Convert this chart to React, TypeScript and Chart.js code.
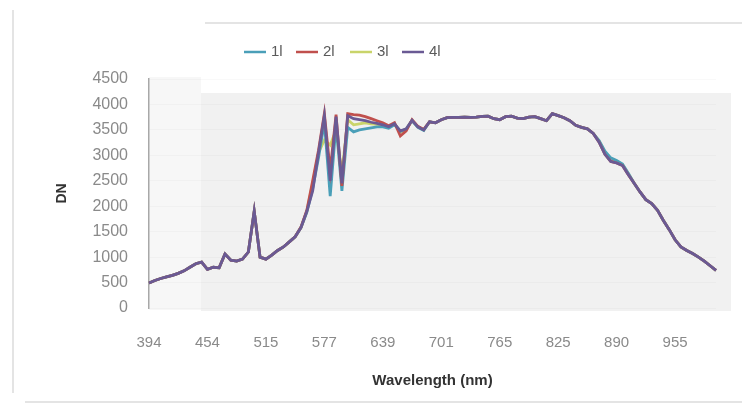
import React, { useEffect, useRef } from 'react';
import { Chart, registerables } from 'chart.js';
Chart.register(...registerables);

const wavelengths = [
  394, 400, 406, 412, 418, 424, 430, 436, 442, 448,
  454, 460, 466, 472, 478, 485, 491, 497, 503, 509,
  515, 521, 527, 534, 540, 546, 552, 558, 565, 571,
  577, 583, 589, 596, 602, 608, 614, 620, 627, 633,
  639, 645, 651, 658, 664, 670, 676, 682, 689, 695,
  701, 707, 714, 720, 727, 733, 739, 746, 752, 758,
  765, 771, 777, 783, 789, 795, 801, 807, 813, 819,
  825, 832, 838, 845, 851, 858, 864, 871, 877, 884,
  890, 897, 903, 910, 916, 923, 929, 936, 942, 949,
  955, 961, 968, 974, 981, 987, 994, 1000,
];
const tickEvery = 10;

const seriesNames = ['1l', '2l', '3l', '4l'];
const seriesColors = ['#4a9fb8', '#c0504d', '#c9d46a', '#6a5a94'];

const s1 = [
  490, 540, 580, 610, 640, 680, 730, 800, 870, 900,
  760, 800, 790, 1060, 940, 920, 960, 1100, 1900, 1000,
  960, 1040, 1130, 1200, 1300, 1400, 1580, 1880, 2350, 2950,
  3650, 2200, 3600, 2300, 3550, 3460, 3500, 3520, 3540, 3560,
  3560, 3530, 3600, 3470, 3510, 3680, 3550, 3490, 3660, 3640,
  3700, 3740, 3745, 3745, 3750, 3745, 3750, 3765, 3770, 3720,
  3700, 3760, 3770, 3730, 3720, 3750, 3760, 3720, 3680, 3820,
  3780, 3740, 3680, 3590, 3550, 3520, 3430, 3290, 3080, 2950,
  2900, 2830, 2650, 2450, 2280, 2130, 2050, 1920, 1720, 1540,
  1340, 1200, 1130, 1070, 1000, 920, 830, 740,
];
const s2 = [
  490, 540, 580, 610, 640, 680, 730, 800, 870, 900,
  760, 800, 790, 1060, 940, 920, 960, 1100, 1900, 1000,
  960, 1040, 1130, 1200, 1300, 1400, 1590, 1920, 2500, 3100,
  3820, 2700, 3800, 2400, 3820, 3800, 3790, 3760, 3720, 3680,
  3640, 3580, 3640, 3380, 3480, 3700, 3570, 3510, 3660, 3640,
  3700, 3740, 3745, 3745, 3750, 3745, 3750, 3765, 3770, 3720,
  3700, 3760, 3770, 3730, 3720, 3750, 3760, 3720, 3680, 3820,
  3780, 3740, 3680, 3590, 3550, 3520, 3430, 3260, 3020, 2880,
  2850, 2800, 2620, 2450, 2280, 2130, 2050, 1920, 1720, 1540,
  1340, 1200, 1130, 1070, 1000, 920, 830, 740,
];
const s3 = [
  490, 540, 580, 610, 640, 680, 730, 800, 870, 900,
  760, 800, 790, 1060, 940, 920, 960, 1100, 1900, 1000,
  960, 1040, 1130, 1200, 1300, 1400, 1580, 1900, 2450, 3050,
  3300, 3200, 3500, 2650, 3700, 3600, 3620, 3640, 3620, 3610,
  3590, 3560, 3620, 3460, 3510, 3690, 3560, 3500, 3660, 3640,
  3700, 3740, 3745, 3745, 3750, 3745, 3750, 3765, 3770, 3720,
  3700, 3760, 3770, 3730, 3720, 3750, 3760, 3720, 3680, 3820,
  3780, 3740, 3680, 3590, 3550, 3520, 3430, 3280, 3060, 2930,
  2890, 2820, 2640, 2450, 2280, 2130, 2050, 1920, 1720, 1540,
  1340, 1200, 1130, 1070, 1000, 920, 830, 740,
];
const s4 = [
  490, 540, 580, 610, 640, 680, 730, 800, 870, 900,
  760, 800, 790, 1060, 940, 920, 960, 1100, 1900, 1000,
  960, 1040, 1130, 1200, 1300, 1400, 1580, 1900, 2300, 3050,
  3780, 2500, 3760, 2450, 3780, 3720, 3700, 3680, 3650, 3630,
  3600, 3560, 3620, 3480, 3520, 3690, 3560, 3500, 3660, 3640,
  3700, 3740, 3745, 3745, 3750, 3745, 3750, 3765, 3770, 3720,
  3700, 3760, 3770, 3730, 3720, 3750, 3760, 3720, 3680, 3820,
  3780, 3740, 3680, 3590, 3550, 3520, 3430, 3260, 3020, 2880,
  2850, 2800, 2620, 2450, 2280, 2130, 2050, 1920, 1720, 1540,
  1340, 1200, 1130, 1070, 1000, 920, 830, 740,
];
const seriesValues = [s1, s2, s3, s4];
const drawOrder = [3, 2, 4, 1];

const yMin = 0;
const yMax = 4500;
const yStep = 500;

const FONT = '"Liberation Sans", Arial, sans-serif';

export default function App() {
  const ref = useRef<HTMLCanvasElement>(null);

  useEffect(() => {
    document.body.style.margin = '0';
    const canvas = ref.current;
    if (!canvas) return;

    const backdrop = {
      id: 'backdrop',
      beforeDraw(chart: any) {
        const { ctx, chartArea: a, width, height } = chart;
        ctx.save();
        ctx.fillStyle = '#ffffff';
        ctx.fillRect(0, 0, width, height);
        ctx.strokeStyle = '#e4e4e4';
        ctx.lineWidth = 2;
        ctx.beginPath();
        ctx.moveTo(13, 10);
        ctx.lineTo(13, 393);
        ctx.moveTo(205, 23);
        ctx.lineTo(width, 23);
        ctx.moveTo(25, 402);
        ctx.lineTo(width, 402);
        ctx.stroke();
        ctx.fillStyle = '#f7f7f7';
        ctx.fillRect(a.left, a.top - 2, 52, a.bottom - a.top + 4);
        ctx.fillStyle = '#f1f1f1';
        ctx.fillRect(a.left + 52, a.top + 14, a.right - a.left - 37, a.bottom - a.top - 11);
        ctx.restore();
      },
    };

    const legendDraw = {
      id: 'legendDraw',
      afterDraw(chart: any) {
        const { ctx } = chart;
        const starts = [244, 296, 350, 402];
        const y = 52;
        ctx.save();
        ctx.font = `15px ${FONT}`;
        ctx.textBaseline = 'middle';
        ctx.textAlign = 'left';
        seriesNames.forEach((name, i) => {
          const x0 = starts[i];
          ctx.strokeStyle = seriesColors[i];
          ctx.lineWidth = 2.5;
          ctx.beginPath();
          ctx.moveTo(x0, y);
          ctx.lineTo(x0 + 22, y);
          ctx.stroke();
          ctx.fillStyle = '#5a5a5a';
          ctx.fillText(name, x0 + 27, y);
        });
        ctx.restore();
      },
    };

    const chart = new Chart(canvas, {
      type: 'line',
      data: {
        labels: wavelengths.map(String),
        datasets: seriesNames.map((name, i) => ({
          label: name,
          data: seriesValues[i],
          borderColor: seriesColors[i],
          backgroundColor: seriesColors[i],
          borderWidth: 2.8,
          pointRadius: 0,
          tension: 0,
          fill: false,
          order: drawOrder[i],
        })),
      },
      options: {
        responsive: false,
        animation: false,
        layout: { padding: { top: 79, right: 22, left: 0, bottom: 0 } },
        plugins: {
          legend: { display: false },
          tooltip: { enabled: false },
          title: { display: false },
        },
        scales: {
          x: {
            type: 'category',
            offset: false,
            afterFit(scale: any) {
              scale.height = 99;
            },
            grid: { display: false, drawTicks: false },
            border: { display: false },
            ticks: {
              autoSkip: false,
              maxRotation: 0,
              minRotation: 0,
              padding: 26,
              color: '#8a8a8a',
              font: { family: FONT, size: 15 },
              callback: (_v: any, idx: number) =>
                idx % tickEvery === 0 ? String(wavelengths[idx]) : '',
            },
            title: {
              display: true,
              text: 'Wavelength (nm)',
              color: '#333333',
              font: { family: FONT, size: 15, weight: 'bold' },
              padding: { top: 0, bottom: 17 },
            },
          },
          y: {
            min: yMin,
            max: yMax,
            afterFit(scale: any) {
              scale.width = 149;
            },
            grid: { color: 'rgba(0,0,0,0.025)', drawTicks: false },
            border: { display: true, color: '#a8a8a8', width: 1.5 },
            ticks: {
              stepSize: yStep,
              padding: 21,
              color: '#8a8a8a',
              font: { family: FONT, size: 16 },
              callback: (v: any) => String(v),
            },
            title: {
              display: true,
              text: 'DN',
              color: '#333333',
              font: { family: FONT, size: 14, weight: 'bold' },
              padding: { top: 54, bottom: 0 },
            },
          },
        },
      },
      plugins: [backdrop, legendDraw],
    });

    return () => chart.destroy();
  }, []);

  return (
    <div style={{ width: 742, height: 407 }}>
      <canvas ref={ref} width={742} height={407} />
    </div>
  );
}
